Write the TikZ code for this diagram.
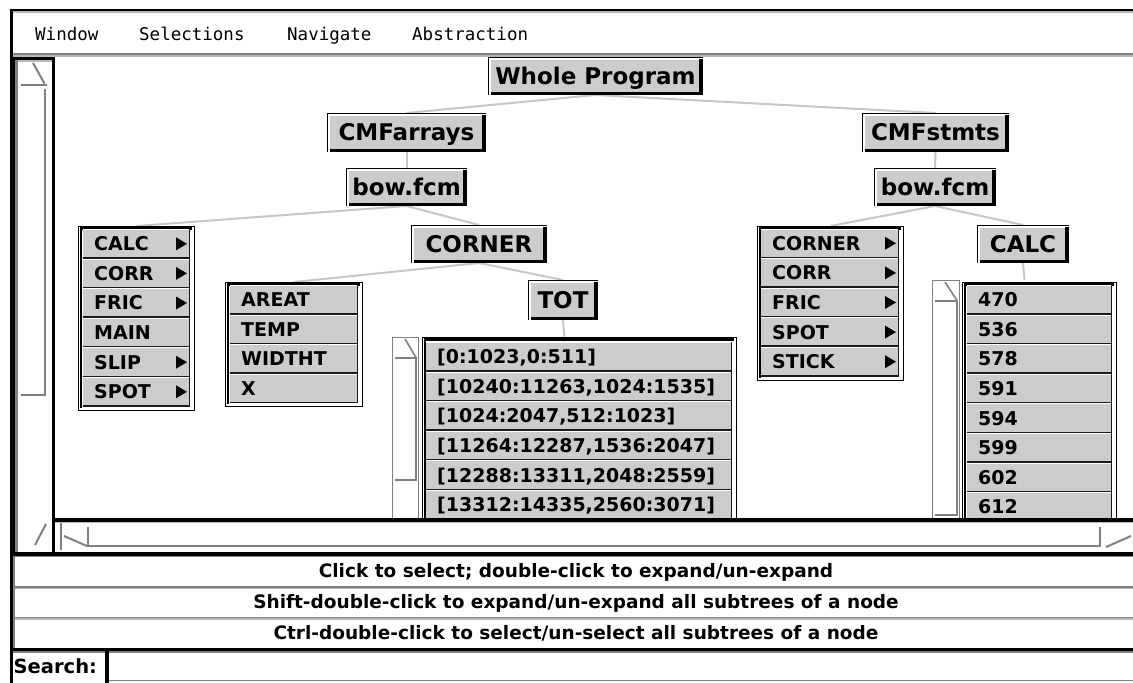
\documentclass[tikz,border=0pt]{standalone}
\usepackage{fontspec}
\setmainfont{DejaVu Sans}
\newfontfamily\menufont{DejaVu Sans Mono}
\usetikzlibrary{fit}

\pgfdeclarelayer{paper}
\pgfdeclarelayer{wires}
\pgfsetlayers{paper,wires,main}

\definecolor{btngray}{HTML}{CCCCCC}
\definecolor{wiregray}{HTML}{C6C6C6}
\definecolor{midgray}{HTML}{808080}
\definecolor{palegray}{HTML}{B8B8B8}
\definecolor{rowedge}{HTML}{1A1A1A}

\tikzset{
  menulabel/.style={font=\menufont\fontsize{17.5}{20}\selectfont, inner sep=0pt, anchor=base west},
  treelabel/.style={font=\bfseries\fontsize{23}{26}\selectfont, inner sep=0pt, text height=16.8pt, text depth=0pt},
  rowlabel/.style={font=\bfseries\fontsize{19}{21}\selectfont, inner sep=0pt, text height=13.8pt, text depth=0pt, anchor=west},
  statuslabel/.style={font=\bfseries\fontsize{18.5}{21}\selectfont, inner sep=0pt, text height=13.5pt, text depth=0pt},
  wire/.style={wiregray, line width=2pt},
  fitbox/.style={inner sep=0pt, outer sep=0pt},
}

% raised tree button: name, x1, y1, x2, y2, label
\newcommand\treebox[6]{%
  \coordinate (#1-a) at (#2,#3);
  \coordinate (#1-b) at (#4,#5);
  \node[fitbox, fit=(#1-a)(#1-b)] (#1) {};
  \fill[white] (#2,#3) rectangle (#4,#5);
  \fill[btngray] (#2+3,#3+3) rectangle (#4-4,#5-3);
  \draw[black, line width=1pt] (#2+0.5,#5) -- (#2+0.5,#3+0.5) -- (#4,#3+0.5);
  \draw[black, line width=4pt] (#4-2,#3+2) -- (#4-2,#5);
  \draw[black, line width=3pt] (#2+3,#5-1.5) -- (#4,#5-1.5);
  \node[treelabel] (#1-t) at (#1.center) {#6};
}

% list frame: name, x1, y1, x2, y2
\newcommand\listframe[5]{%
  \coordinate (#1-a) at (#2,#3);
  \coordinate (#1-b) at (#4,#5);
  \node[fitbox, fit=(#1-a)(#1-b)] (#1) {};
  \fill[white] (#2,#3) rectangle (#4,#5);
  \draw[black, line width=1pt] (#2+0.5,#3+0.5) rectangle (#4-0.5,#5-0.5);
  \draw[black, line width=2.5pt] (#2+2.75,#5-3) -- (#2+2.75,#3+2.5) -- (#4-3,#3+2.5);
}

% list entry: name, x1, y1, x2, label, submenu mark (0/1)
\newcommand\listrow[6]{%
  \coordinate (#1-a) at (#2,#3);
  \coordinate (#1-b) at (#4,#3+29.6);
  \node[fitbox, fit=(#1-a)(#1-b)] (#1) {};
  \fill[btngray] (#2,#3) rectangle (#4,#3+29.6);
  \draw[white, line width=1pt] (#2,#3+0.5) -- (#4,#3+0.5);
  \draw[rowedge, line width=1.5pt] (#2,#3+28.85) -- (#4-0.75,#3+28.85) -- (#4-0.75,#3);
  \node[rowlabel] (#1-t) at (#2+11,#3+14.8) {#5};
  \ifnum#6=1 \fill[black] (#4-14,#3+8.3) -- (#4-3,#3+14.8) -- (#4-14,#3+21.3) -- cycle;\fi
}

% small vertical scrollbar: name, x1, y1, x2, thumb bottom
\newcommand\vscroll[5]{%
  \coordinate (#1-a) at (#2,#3);
  \coordinate (#1-b) at (#4,540);
  \node[fitbox, fit=(#1-a)(#1-b)] (#1) {};
  \draw[midgray, line width=1.2pt] (#2+0.6,540) -- (#2+0.6,#3+0.6) -- (#4-0.6,#3+0.6) -- (#4-0.6,540);
  \draw[midgray, line width=1.6pt] (#2+13,#3+2) -- (#4-3,#3+20.5);
  \draw[midgray, line width=1.6pt] (#2+3,#3+21) -- (#4-2,#3+21);
  \draw[midgray, line width=2pt] (#4-3.5,#3+21) -- (#4-3.5,#5);
  \draw[midgray, line width=1.6pt] (#2+3,#5) -- (#4-2,#5);
}

\begin{document}
\begin{tikzpicture}[x=1pt,y=-1pt]
\useasboundingbox (0,0) rectangle (1133,683);
\begin{pgfonlayer}{paper}
  \fill[white] (0,0) rectangle (1133,683);
\end{pgfonlayer}

% ---------- window frame and menu bar ----------
\fill[black] (9.5,8.5) rectangle (1133,11);
\fill[palegray] (12.5,11) rectangle (1133,12.5);
\fill[black] (9.5,8.5) rectangle (12.5,683);
\fill[midgray] (12.5,52.5) rectangle (1133,54.5);
\fill[palegray] (12.5,54.5) rectangle (1133,56.5);

\node[menulabel] (mwin) at (35,40) {Window};
\node[menulabel] (msel) at (139,40) {Selections};
\node[menulabel] (mnav) at (287,40) {Navigate};
\node[menulabel] (mabs) at (412,40) {Abstraction};

% ---------- left scrollbar ----------
\fill[black] (9.5,57) rectangle (15,552);
\fill[black] (15,57) rectangle (55,60);
\fill[midgray] (15,60) rectangle (17.5,552);
\fill[palegray] (17.5,60) rectangle (51.5,62);
\fill[black] (51.5,57) rectangle (55,552);
\draw[midgray, line width=2pt] (33,63) -- (44.5,83.5);
\draw[midgray, line width=2pt] (21,85) -- (47,85);
\draw[midgray, line width=2.5pt] (45,89) -- (45,395);
\draw[midgray, line width=2pt] (21,394.5) -- (46,394.5);
\draw[midgray, line width=2pt] (35,545) -- (46,524);

% ---------- tree canvas ----------
\begin{scope}
\clip (55,57) rectangle (1133,518);

\treebox{wp}{488}{57}{703}{95}{Whole Program}
\treebox{cmfa}{327}{113}{486}{152}{CMFarrays}
\treebox{cmfs}{862}{113}{1009}{152}{CMFstmts}
\treebox{bowl}{346}{168}{467}{206}{bow.fcm}
\treebox{bowr}{874}{168}{996}{206}{bow.fcm}
\treebox{corner}{411}{225}{547}{263}{CORNER}
\treebox{tot}{528}{280}{598}{320}{TOT}
\treebox{calc}{977}{225}{1069}{263}{CALC}

% routines of the array module
\listframe{lista}{78}{226}{195}{411}
\foreach \lab/\arr [count=\i from 0] in {CALC/1,CORR/1,FRIC/1,MAIN/0,SLIP/1,SPOT/1}
  {\listrow{la\i}{83}{229+29.6*\i}{190}{\lab}{\arr}}

% arrays of CORNER
\listframe{listb}{225}{282}{363}{407}
\foreach \lab [count=\i from 0] in {AREAT,TEMP,WIDTHT,X}
  {\listrow{lb\i}{230}{285+29.6*\i}{358}{\lab}{0}}

% sections of TOT
\vscroll{scc}{392}{337}{419}{480}
\listframe{listc}{422}{337}{737}{540}
\listrow{lc0}{426}{342}{732}{[0:1023,0:511]}{0}
\listrow{lc1}{426}{371.6}{732}{[10240:11263,1024:1535]}{0}
\listrow{lc2}{426}{401.2}{732}{[1024:2047,512:1023]}{0}
\listrow{lc3}{426}{430.8}{732}{[11264:12287,1536:2047]}{0}
\listrow{lc4}{426}{460.4}{732}{[12288:13311,2048:2559]}{0}
\listrow{lc5}{426}{490}{732}{[13312:14335,2560:3071]}{0}
\node[fitbox, fit=(scc)(listc)] (totlist) {};

% routines of the statement module
\listframe{listd}{757}{226}{904}{381}
\foreach \lab [count=\i from 0] in {CORNER,CORR,FRIC,SPOT,STICK}
  {\listrow{ld\i}{761}{228.5+29.6*\i}{899}{\lab}{1}}

% statements of CALC
\vscroll{sce}{932}{280}{960}{515}
\listframe{liste}{962}{282}{1117}{540}
\foreach \lab [count=\i from 0] in {470,536,578,591,594,599,602,612}
  {\listrow{le\i}{967}{285+29.6*\i}{1112}{\lab}{0}}
\node[fitbox, fit=(sce)(liste)] (calclist) {};
\end{scope}

% tree connections
\begin{pgfonlayer}{wires}
  \draw[wire] (wp.south) -- (cmfa.north);
  \draw[wire] (wp.south) -- (cmfs.north);
  \draw[wire] (cmfa.south) -- (bowl.north);
  \draw[wire] (cmfs.south) -- (bowr.north);
  \draw[wire] (bowl.south) -- (lista.north);
  \draw[wire] (bowl.south) -- (corner.north);
  \draw[wire] (corner.south) -- (listb.north);
  \draw[wire] (corner.south) -- (tot.north);
  \draw[wire] (tot.south) -- (totlist.north);
  \draw[wire] (bowr.south) -- (listd.north);
  \draw[wire] (bowr.south) -- (calc.north);
  \draw[wire] (calc.south) -- (calclist.north);
\end{pgfonlayer}

% ---------- horizontal scrollbar ----------
\fill[black] (51.5,518) rectangle (1133,521.5);
\fill[palegray] (55,521.5) rectangle (1133,523);
\draw[midgray, line width=1.5pt] (61,523) -- (61,550);
\draw[midgray, line width=2pt] (64,536) -- (87,546);
\draw[midgray, line width=2pt] (88,527) -- (88,547);
\draw[midgray, line width=2pt] (88,546) -- (1100,546);
\draw[midgray, line width=2pt] (1100,527) -- (1100,547);
\draw[midgray, line width=2pt] (1106,547) -- (1131,536);

% ---------- status lines ----------
\fill[black] (9.5,551.5) rectangle (1133,555.5);
\fill[midgray] (12.5,555.5) rectangle (1133,557);
\fill[midgray] (12.5,586) rectangle (1133,587.5);
\fill[palegray] (12.5,587.5) rectangle (1133,589);
\fill[midgray] (12.5,616.5) rectangle (1133,618);
\fill[palegray] (12.5,618) rectangle (1133,619.5);
\fill[black] (9.5,647.5) rectangle (1133,651);
\fill[midgray] (12.5,651) rectangle (1133,653);
\fill[midgray] (12.5,557) rectangle (14.5,647.5);

\node[statuslabel] (hint1) at (576,571) {Click to select; double-click to expand/un-expand};
\node[statuslabel] (hint2) at (576,602) {Shift-double-click to expand/un-expand all subtrees of a node};
\node[statuslabel] (hint3) at (576,632.5) {Ctrl-double-click to select/un-select all subtrees of a node};

% ---------- search field ----------
\node[statuslabel, font=\bfseries\fontsize{19.5}{22}\selectfont, anchor=west] (searchlbl) at (13.5,667) {Search:};
\fill[black] (104.5,651) rectangle (108.5,683);
\fill[midgray] (108.5,679.5) rectangle (1133,681);
\end{tikzpicture}
\end{document}
